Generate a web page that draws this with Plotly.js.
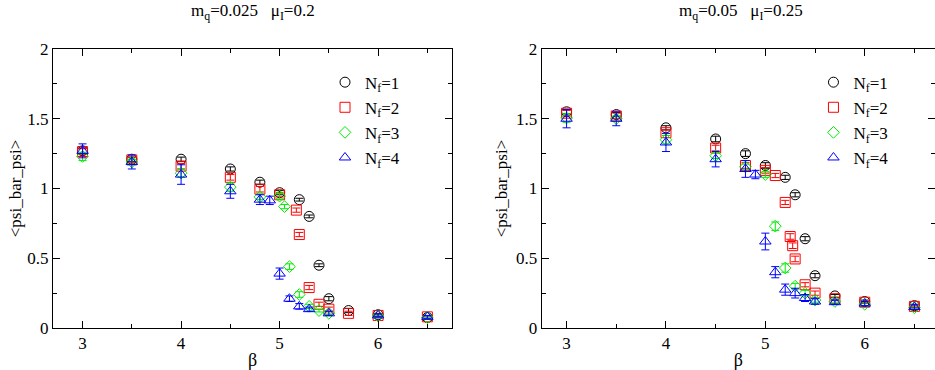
<!DOCTYPE html>
<html>
<head>
<meta charset="utf-8">
<script src="https://cdn.plot.ly/plotly-3.0.1.min.js"></script>
<style>
html, body { margin: 0; padding: 0; background: #fff; }
#chart { width: 935px; height: 370px; }
</style>
</head>
<body>
<div id="chart"></div>
<script>
// ---- Left panel: m_q = 0.025, mu_I = 0.2 ----
const betaA1 = [3, 3.5, 4, 4.5, 4.8, 5.0, 5.2, 5.3, 5.4, 5.5, 5.7, 6.0, 6.5];
const pbpA1  = [1.27, 1.21, 1.21, 1.14, 1.045, 0.97, 0.92, 0.80, 0.45, 0.21, 0.125, 0.095, 0.075];
const errA1  = [0.02, 0.015, 0.015, 0.015, 0.015, 0.015, 0.01, 0.01, 0.01, 0.015, 0.015, 0.01, 0.01];

const betaA2 = [3, 3.5, 4, 4.5, 4.8, 5.0, 5.17, 5.2, 5.3, 5.4, 5.5, 5.7, 6.0, 6.5];
const pbpA2  = [1.265, 1.205, 1.16, 1.08, 0.995, 0.955, 0.845, 0.67, 0.29, 0.17, 0.135, 0.105, 0.09, 0.08];
const errA2  = [0.02, 0.02, 0.02, 0.02, 0.02, 0.015, 0.015, 0.015, 0.015, 0.015, 0.015, 0.015, 0.01, 0.01];

const betaA3 = [3, 3.5, 4, 4.5, 4.8, 5.0, 5.05, 5.1, 5.2, 5.3, 5.4, 5.5, 6.0, 6.5];
const pbpA3  = [1.23, 1.19, 1.11, 1.01, 0.94, 0.945, 0.87, 0.44, 0.24, 0.155, 0.125, 0.105, 0.085, 0.075];
const errA3  = [0.03, 0.02, 0.03, 0.03, 0.02, 0.02, 0.015, 0.02, 0.02, 0.015, 0.01, 0.01, 0.01, 0.01];

const betaA4 = [3, 3.5, 4, 4.5, 4.8, 4.9, 5.0, 5.1, 5.2, 5.3, 5.5, 6.0, 6.5];
const pbpA4  = [1.27, 1.19, 1.10, 0.98, 0.92, 0.915, 0.39, 0.21, 0.155, 0.135, 0.105, 0.09, 0.08];
const errA4  = [0.05, 0.05, 0.07, 0.05, 0.035, 0.03, 0.04, 0.02, 0.02, 0.015, 0.015, 0.01, 0.01];

// ---- Right panel: m_q = 0.05, mu_I = 0.25 ----
const betaB1 = [3, 3.5, 4, 4.5, 4.8, 5.0, 5.2, 5.3, 5.4, 5.5, 5.7, 6.0, 6.5];
const pbpB1  = [1.55, 1.53, 1.435, 1.355, 1.25, 1.165, 1.08, 0.955, 0.64, 0.375, 0.23, 0.19, 0.16];
const errB1  = [0.015, 0.015, 0.015, 0.02, 0.02, 0.02, 0.015, 0.015, 0.015, 0.015, 0.01, 0.01, 0.01];

const betaB2 = [3, 3.5, 4, 4.5, 4.8, 5.0, 5.1, 5.2, 5.25, 5.275, 5.3, 5.4, 5.5, 5.7, 6.0, 6.5];
const pbpB2  = [1.54, 1.52, 1.40, 1.29, 1.165, 1.13, 1.093, 0.90, 0.656, 0.59, 0.495, 0.31, 0.25, 0.21, 0.185, 0.155];
const errB2  = [0.02, 0.02, 0.02, 0.02, 0.02, 0.02, 0.015, 0.015, 0.02, 0.02, 0.02, 0.015, 0.015, 0.01, 0.01, 0.01];

const betaB3 = [3, 3.5, 4, 4.5, 4.8, 5.0, 5.1, 5.2, 5.3, 5.4, 5.5, 5.7, 6.0, 6.5];
const pbpB3  = [1.505, 1.50, 1.35, 1.235, 1.155, 1.10, 0.73, 0.43, 0.30, 0.25, 0.20, 0.19, 0.17, 0.145];
const errB3  = [0.03, 0.02, 0.03, 0.02, 0.02, 0.02, 0.03, 0.03, 0.02, 0.02, 0.015, 0.01, 0.01, 0.01];

const betaB4 = [3, 3.5, 4, 4.5, 4.8, 4.9, 5.0, 5.1, 5.2, 5.3, 5.4, 5.5, 5.7, 6.0, 6.5];
const pbpB4  = [1.50, 1.50, 1.33, 1.21, 1.14, 1.10, 0.62, 0.40, 0.275, 0.25, 0.215, 0.19, 0.185, 0.175, 0.15];
const errB4  = [0.065, 0.05, 0.065, 0.055, 0.06, 0.03, 0.06, 0.04, 0.04, 0.035, 0.025, 0.02, 0.015, 0.015, 0.015];

const seriesNames = ['N<sub>f</sub>=1', 'N<sub>f</sub>=2', 'N<sub>f</sub>=3', 'N<sub>f</sub>=4'];
const panelTitles = ['m<sub>q</sub>=0.025&nbsp;&nbsp;&nbsp;μ<sub>I</sub>=0.2', 'm<sub>q</sub>=0.05&nbsp;&nbsp;&nbsp;μ<sub>I</sub>=0.25'];
const xLabel = 'β';
const yLabel = '&lt;psi_bar_psi&gt;';

const colors  = ['#000000', '#ff0000', '#00ee00', '#0000ff'];
const symbols = ['circle-open', 'square-open', 'diamond-open', 'triangle-up-open'];
const sizes   = [10, 10, 9, 10];

const panelA = [[betaA1, pbpA1, errA1], [betaA2, pbpA2, errA2], [betaA3, pbpA3, errA3], [betaA4, pbpA4, errA4]];
const panelB = [[betaB1, pbpB1, errB1], [betaB2, pbpB2, errB2], [betaB3, pbpB3, errB3], [betaB4, pbpB4, errB4]];

const FONT = 'Liberation Serif';
const traces = [];
[panelA, panelB].forEach((panel, p) => {
  panel.forEach((s, i) => {
    traces.push({
      type: 'scatter', mode: 'markers',
      x: s[0], y: s[1],
      error_y: { type: 'data', array: s[2], visible: true, color: colors[i], thickness: 1, width: 4 },
      marker: { symbol: symbols[i], size: sizes[i], color: colors[i], line: { width: 1, color: colors[i] } },
      name: seriesNames[i],
      xaxis: p === 0 ? 'x' : 'x2',
      yaxis: p === 0 ? 'y' : 'y2',
      legend: p === 0 ? 'legend' : 'legend2',
      showlegend: true,
      hoverinfo: 'skip'
    });
  });
});

function xAxis(domain, range, anchor) {
  return {
    domain: domain, range: range, anchor: anchor,
    tickmode: 'linear', tick0: 3, dtick: 1,
    ticks: 'inside', ticklen: 7, tickwidth: 1, tickcolor: '#000',
    minor: { dtick: 0.5, tick0: 3, ticks: 'inside', ticklen: 4, tickcolor: '#000', tickwidth: 1 },
    showline: true, linecolor: '#000', linewidth: 1, mirror: 'ticks',
    showgrid: false, zeroline: false,
    tickfont: { family: FONT, size: 17, color: '#000' },
    title: { text: xLabel, font: { family: FONT, size: 18, color: '#000' }, standoff: 2 }
  };
}
function yAxis(anchor, standoff) {
  return {
    domain: [0, 1], range: [0, 2], anchor: anchor,
    tickmode: 'linear', tick0: 0, dtick: 0.5,
    ticks: 'inside', ticklen: 7, tickwidth: 1, tickcolor: '#000',
    minor: { dtick: 0.25, tick0: 0, ticks: 'inside', ticklen: 4, tickcolor: '#000', tickwidth: 1 },
    showline: true, linecolor: '#000', linewidth: 1, mirror: 'ticks',
    showgrid: false, zeroline: false,
    tickfont: { family: FONT, size: 17, color: '#000' },
    title: { text: yLabel, font: { family: FONT, size: 17, color: '#000' }, standoff: standoff }
  };
}

const legendCommon = {
  bgcolor: 'rgba(0,0,0,0)', borderwidth: 0,
  font: { family: FONT, size: 17, color: '#000' },
  xanchor: 'left', yanchor: 'top', tracegroupgap: 0
};

const layout = {
  width: 935, height: 370,
  margin: { l: 53, r: 0, t: 49, b: 42 },
  paper_bgcolor: '#fff', plot_bgcolor: '#fff',
  font: { family: FONT, size: 17, color: '#000' },
  xaxis: xAxis([0, 0.4524], [2.7, 6.75], 'y'),
  yaxis: yAxis('x', 1),
  xaxis2: xAxis([0.5541, 1], [2.75, 6.707], 'y2'),
  yaxis2: yAxis('x2', 4),
  legend: Object.assign({ x: 0.3084, y: 0.944 }, legendCommon),
  legend2: Object.assign({ x: 0.8622, y: 0.944 }, legendCommon),
  annotations: [
    { text: panelTitles[0], xref: 'paper', yref: 'paper', x: 0.2265, y: 1.133, xanchor: 'center', yanchor: 'middle', showarrow: false, font: { family: FONT, size: 17, color: '#000' } },
    { text: panelTitles[1], xref: 'paper', yref: 'paper', x: 0.7797, y: 1.133, xanchor: 'center', yanchor: 'middle', showarrow: false, font: { family: FONT, size: 17, color: '#000' } }
  ],
  showlegend: true,
  hovermode: false
};

Plotly.newPlot('chart', traces, layout, { displayModeBar: false });
</script>
</body>
</html>
